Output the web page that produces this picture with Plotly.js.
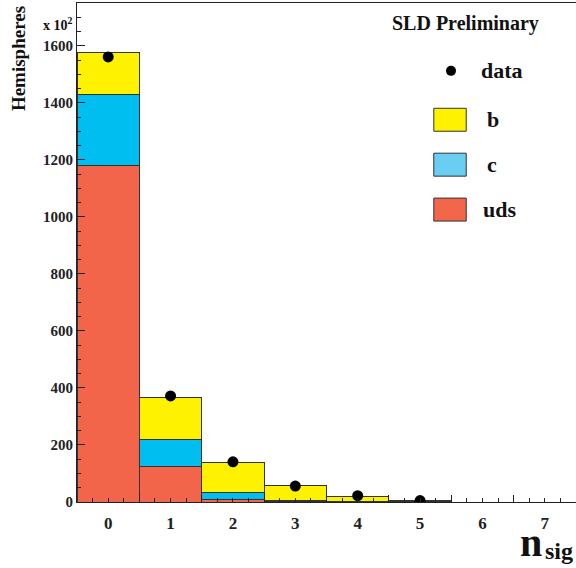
<!DOCTYPE html>
<html>
<head>
<meta charset="utf-8">
<script src="https://cdn.plot.ly/plotly-3.0.1.min.js"></script>
<style>
  html, body { margin: 0; padding: 0; background: #fff; }
  #chart { width: 576px; height: 568px; }
</style>
</head>
<body>
<div id="chart"></div>
<script>
// Number of significant tracks per hemisphere (units of 10^2 hemispheres)
const nsig = [0, 1, 2, 3, 4, 5, 6, 7];
const udsMC = [1179, 126, 9, 3, 1, 1, 0, 0];
const cMC = [249, 92, 24, 4, 1, 0.5, 0, 0];
const bMC = [147, 148, 105, 50, 18, 3, 0, 0];
const dataVals = [1561, 372, 141, 56, 22, 5, null, null];
const yTicks = [0, 200, 400, 600, 800, 1000, 1200, 1400, 1600];

const serif = "Liberation Serif, Times New Roman, serif";
const outline = { color: '#333333', width: 1 };
const boldFont = (size) => ({ family: serif, size: size, color: '#111', weight: 'bold' });

const traces = [
  { type: 'bar', name: 'uds', x: nsig, y: udsMC, width: 1,
    marker: { color: '#F3654B', line: outline }, hoverinfo: 'x+y' },
  { type: 'bar', name: 'c', x: nsig, y: cMC, width: 1,
    marker: { color: '#00BEF0', line: outline }, hoverinfo: 'x+y' },
  { type: 'bar', name: 'b', x: nsig, y: bMC, width: 1,
    marker: { color: '#FFF200', line: outline }, hoverinfo: 'x+y' },
  { type: 'scatter', mode: 'markers', name: 'data', x: nsig, y: dataVals,
    marker: { color: '#000', size: 11 } },
  // carrier for the integer labels on the bottom axis
  { type: 'scatter', mode: 'markers', x: nsig, y: nsig.map(() => null),
    xaxis: 'x2', showlegend: false, hoverinfo: 'skip' }
];

// helper for paper-anchored text
function label(text, x, y, size, xanchor, yanchor, extra) {
  return Object.assign({ text: text, xref: 'paper', yref: 'paper', x: x, y: y,
    xanchor: xanchor, yanchor: yanchor, showarrow: false, font: boldFont(size) }, extra || {});
}

// legend entries drawn in paper coordinates
const legendItems = [
  { label: 'b', color: '#FFF200', y: 0.766, tx: 0.818 },
  { label: 'c', color: '#6ACEF2', y: 0.676, tx: 0.818 },
  { label: 'uds', color: '#F2664A', y: 0.586, tx: 0.810 }
];
const shapes = [
  { type: 'circle', xref: 'paper', yref: 'paper', x0: 0.7395, x1: 0.7595, y0: 0.854, y1: 0.874,
    fillcolor: '#000', line: { width: 0 } }
];
const annotations = [
  label('SLD Preliminary', 0.778, 0.958, 20, 'center', 'middle'),
  label('data', 0.806, 0.864, 22, 'left', 'middle'),
  label('Hemispheres', -0.116, 0.997, 19, 'center', 'top', { textangle: -90 }),
  label('x 10<sup>2</sup>', -0.004, 0.957, 14, 'right', 'middle'),
  label('n', 0.936, -0.082, 40, 'right', 'middle'),
  label('sig', 0.966, -0.098, 24, 'center', 'middle')
];
legendItems.forEach(it => {
  shapes.push({ type: 'rect', xref: 'paper', yref: 'paper', x0: 0.715, x1: 0.780,
    y0: it.y - 0.023, y1: it.y + 0.023, fillcolor: it.color, line: { color: '#333', width: 1 } });
  annotations.push(label(it.label, it.tx, it.y, 22, 'left', 'middle'));
});

const layout = {
  width: 576, height: 568,
  margin: { l: 77, r: 0, t: 3, b: 66 },
  paper_bgcolor: '#fff', plot_bgcolor: '#fff',
  barmode: 'stack', bargap: 0,
  showlegend: false,
  font: { family: serif, color: '#222' },
  xaxis: {
    range: [-0.5, 7.5], showgrid: false, zeroline: false,
    showline: true, linecolor: '#222', linewidth: 1, mirror: true,
    tickmode: 'linear', tick0: 0.5, dtick: 1, ticks: 'inside', ticklen: 7, tickcolor: '#222',
    showticklabels: false,
    minor: { tick0: 0, dtick: 0.25, ticks: 'inside', ticklen: 4, tickcolor: '#222', showgrid: false }
  },
  xaxis2: {
    overlaying: 'x', anchor: 'y', side: 'bottom', range: [-0.5, 7.5],
    tickmode: 'array', tickvals: nsig, ticktext: nsig.map(String),
    ticks: '', showgrid: false, zeroline: false, showline: false,
    ticklabelstandoff: 9,
    tickfont: { family: serif, size: 17, color: '#222', weight: 'bold' }
  },
  yaxis: {
    range: [0, 1750], showgrid: false, zeroline: false,
    showline: true, linecolor: '#222', linewidth: 1,
    tickmode: 'array', tickvals: yTicks, ticktext: yTicks.map(String),
    ticks: 'inside', ticklen: 8, tickcolor: '#222',
    minor: { dtick: 50, ticks: 'inside', ticklen: 4, tickcolor: '#222', showgrid: false },
    tickfont: { family: serif, size: 15, color: '#222', weight: 'bold' }
  },
  shapes: shapes,
  annotations: annotations
};

Plotly.newPlot('chart', traces, layout, { displayModeBar: false, staticPlot: true });
</script>
</body>
</html>
